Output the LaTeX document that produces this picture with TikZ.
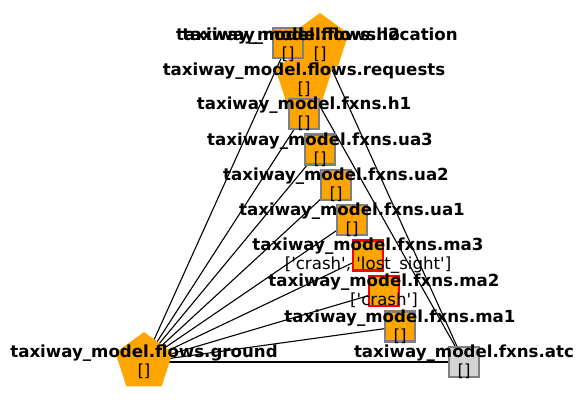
\documentclass[tikz,border=0pt]{standalone}
\usepackage{fontspec}
\setmainfont{DejaVu Sans}[Ligatures=TeXOff]
\usetikzlibrary{shapes.geometric}
\pgfdeclarelayer{edgelayer}
\pgfdeclarelayer{labellayer}
\pgfsetlayers{edgelayer,main,labellayer}
\tikzset{
  flowpent/.style={regular polygon, regular polygon sides=5, minimum size=60bp, inner sep=0pt, fill=orangeF, draw=none},
  fxnbox/.style={rectangle, minimum size=30bp, inner sep=0pt, fill=orangeF, draw=grayB, line width=2.8bp},
  faultbox/.style={fxnbox, draw=redB},
  atcbox/.style={fxnbox, fill=lgrayF},
  lbl/.style={align=center, inner sep=0pt, font=\fontsize{16.7}{19.5}\selectfont},
  edge/.style={draw=black, line width=1.1bp}
}
\definecolor{orangeF}{HTML}{FFA500}
\definecolor{grayB}{HTML}{808080}
\definecolor{redB}{HTML}{FF0000}
\definecolor{lgrayF}{HTML}{D3D3D3}
\begin{document}
\begin{tikzpicture}[x=1bp,y=-1bp]
\useasboundingbox (0,0) rectangle (584,405);
% pentagons
\node[flowpent] (location) at (320,43) {};
\node[flowpent] (requests) at (304,78) {};
\node[flowpent] (ground) at (144,362) {};
% squares
\node[fxnbox] (h2) at (288,43) {};
\node[fxnbox] (h1) at (304,114) {};
\node[fxnbox] (ua3) at (320,149.5) {};
\node[fxnbox] (ua2) at (336,185) {};
\node[fxnbox] (ua1) at (352,220) {};
\node[faultbox] (ma3) at (368,255.5) {};
\node[faultbox] (ma2) at (384,291) {};
\node[fxnbox] (ma1) at (400,326.5) {};
\node[atcbox] (atc) at (464,362) {};
% edges
\begin{pgfonlayer}{edgelayer}
\foreach \t in {h2,h1,ua3,ua2,ua1,ma3,ma2,ma1,atc}
  \draw[edge] (ground.center) -- (\t.center);
\draw[edge] (atc.center) -- (location.center);
\draw[edge] (atc.center) -- (requests.center);
\end{pgfonlayer}
% labels
\begin{pgfonlayer}{labellayer}
\node[lbl] (l-location) at ([yshift=-1.5bp]location.center) {\textbf{taxiway\_model.flows.location}\\{}[]};
\node[lbl] (l-h2) at ([yshift=-1.5bp]h2.center) {\textbf{taxiway\_model.flows.h2}\\{}[]};
\node[lbl] (l-requests) at ([yshift=-1.5bp]requests.center) {\textbf{taxiway\_model.flows.requests}\\{}[]};
\node[lbl] (l-h1) at (h1.center) {\textbf{taxiway\_model.fxns.h1}\\{}[]};
\node[lbl] (l-ua3) at (ua3.center) {\textbf{taxiway\_model.fxns.ua3}\\{}[]};
\node[lbl] (l-ua2) at (ua2.center) {\textbf{taxiway\_model.fxns.ua2}\\{}[]};
\node[lbl] (l-ua1) at (ua1.center) {\textbf{taxiway\_model.fxns.ua1}\\{}[]};
\node[lbl] (l-ma3) at (ma3.center) {\textbf{taxiway\_model.fxns.ma3}\\{}['crash', 'lost\_sight']};
\node[lbl] (l-ma2) at (ma2.center) {\textbf{taxiway\_model.fxns.ma2}\\{}['crash']};
\node[lbl] (l-ma1) at (ma1.center) {\textbf{taxiway\_model.fxns.ma1}\\{}[]};
\node[lbl] (l-ground) at (ground.center) {\textbf{taxiway\_model.flows.ground}\\{}[]};
\node[lbl] (l-atc) at (atc.center) {\textbf{taxiway\_model.fxns.atc}\\{}[]};
\end{pgfonlayer}
\end{tikzpicture}
\end{document}
